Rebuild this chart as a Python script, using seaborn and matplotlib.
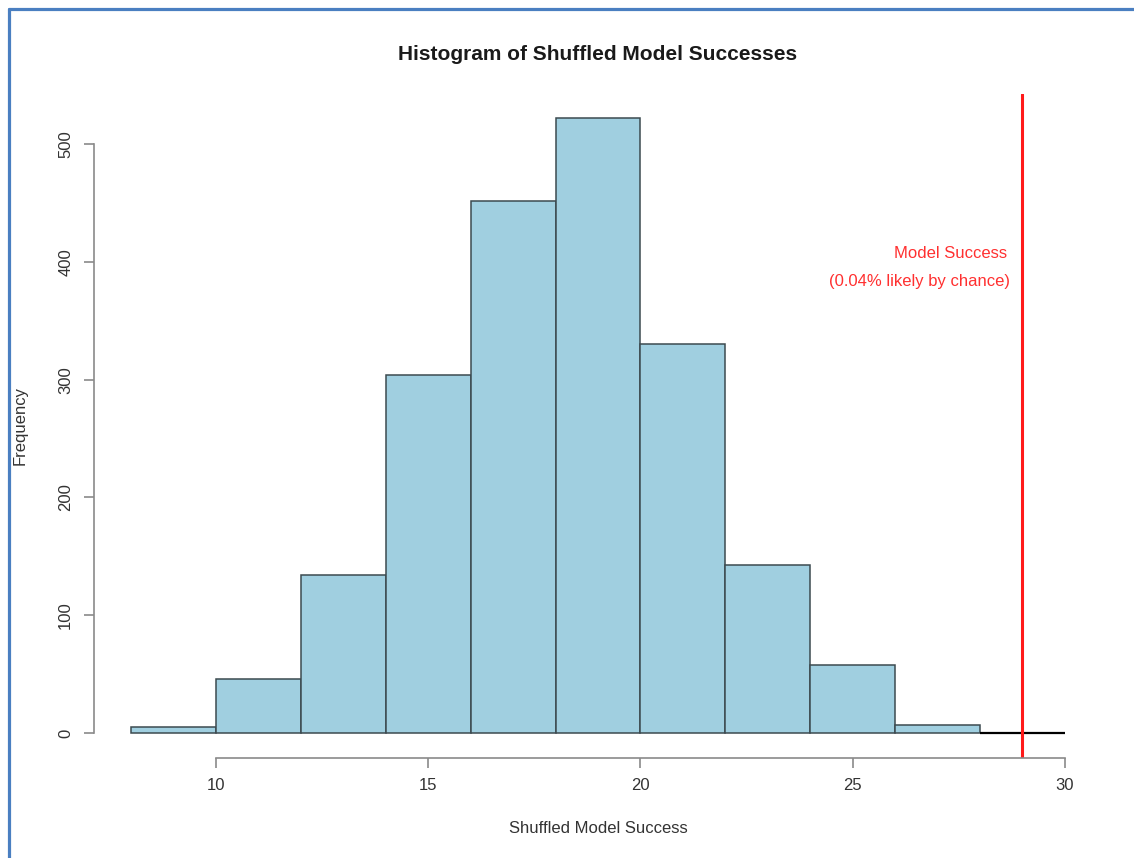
import seaborn as sns
import matplotlib.pyplot as plt
from matplotlib.lines import Line2D

sns.set_style('white')
plt.rcParams['font.family'] = ['Liberation Sans', 'DejaVu Sans']

# histogram bins (width 2) and counts
bin_edges = [8, 10, 12, 14, 16, 18, 20, 22, 24, 26, 28, 30]
counts = [5, 46, 134, 304, 452, 522, 330, 143, 58, 7, 0]
bin_mids = [(a + b) / 2 for a, b in zip(bin_edges[:-1], bin_edges[1:])]

model_success = 29
x_ticks = [10, 15, 20, 25, 30]
y_ticks = [0, 100, 200, 300, 400, 500]

fig = plt.figure(figsize=(11.34, 8.58), dpi=100)
ax = fig.add_axes([0.0829, 0.117, 0.8889, 0.774])

sns.histplot(x=bin_mids, weights=counts, bins=bin_edges, color='#a0cfe0',
             edgecolor='#3c4a50', linewidth=1.1, alpha=1, ax=ax)
# empty last bin drawn as flat black line like R does
ax.patches[-1].set_edgecolor('black')
ax.patches[-1].set_linewidth(1.6)

ax.axvline(model_success, color='#ff1a1a', lw=2.2)
ax.text(model_success - 0.35, 407, 'Model Success', ha='right', va='center',
        color='#ff3030', fontsize=12)
ax.text(model_success - 0.28, 383, '(0.04% likely by chance)', ha='right',
        va='center', color='#ff3030', fontsize=12)

# R-style axis ranges (4% padding)
xpad = 0.04 * (bin_edges[-1] - bin_edges[0])
ax.set_xlim(bin_edges[0] - xpad, bin_edges[-1] + xpad)
ypad = 0.04 * max(counts)
ax.set_ylim(-ypad, max(counts) + ypad)

ax.set_xticks(x_ticks)
ax.set_yticks(y_ticks)
sns.despine(ax=ax)
for side in ['left', 'bottom']:
    ax.spines[side].set_color('#8a8a8a')
    ax.spines[side].set_linewidth(1.2)
ax.spines['left'].set_bounds(y_ticks[0], y_ticks[-1])
ax.spines['bottom'].set_bounds(x_ticks[0], x_ticks[-1])
ax.tick_params(bottom=True, left=True, direction='out', length=7, width=1.2,
               color='#8a8a8a', labelcolor='#333333', labelsize=12, pad=8)
plt.setp(ax.get_yticklabels(), rotation=90, va='center')

ax.set_title('Histogram of Shuffled Model Successes', fontsize=15,
             fontweight='bold', color='#1a1a1a', pad=24)
ax.set_xlabel('Shuffled Model Success', fontsize=12, color='#333333')
ax.set_ylabel('Frequency', fontsize=12, color='#333333')
ax.xaxis.set_label_coords(0.5, -0.096)
ax.yaxis.set_label_coords(-0.066, 0.5)

# blue screenshot frame on left and top
fig.add_artist(Line2D([0.0075, 0.0075], [0, 0.989], color='#4a7fc1', lw=2.3))
fig.add_artist(Line2D([0.0075, 1.0], [0.989, 0.989], color='#4a7fc1', lw=2.3))

fig.savefig('out.png', dpi=100)
